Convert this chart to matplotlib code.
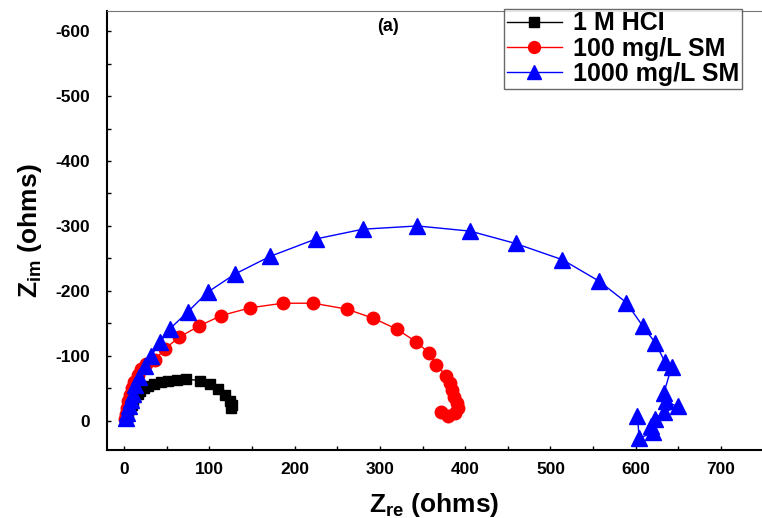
import numpy as np
import matplotlib
matplotlib.use("Agg")
import matplotlib.pyplot as plt
from matplotlib.ticker import MultipleLocator

plt.rcParams['font.family'] = ['Liberation Sans', 'DejaVu Sans']
plt.rcParams['font.weight'] = 'bold'
plt.rcParams['axes.unicode_minus'] = False
plt.rcParams['mathtext.fontset'] = 'custom'
plt.rcParams['mathtext.rm'] = 'Liberation Sans:bold'
plt.rcParams['mathtext.bf'] = 'Liberation Sans:bold'
plt.rcParams['mathtext.it'] = 'Liberation Sans:bold'

# 1 M HCl
hcl_re = [3, 5, 7, 9, 11, 13, 16, 19, 23, 28, 35, 43, 52, 62, 73, 89, 101, 110, 118, 124, 126, 125]
hcl_im = [-5, -12, -19, -25, -31, -37, -42, -46, -50, -54, -57, -60, -62, -63, -64, -62, -56, -49, -39, -30, -24, -20]

# 100 mg/L SM
sm100_re = [1, 2, 3, 5, 7, 9, 12, 16, 20, 26, 36, 48, 65, 88, 114, 148, 186, 222, 261, 292, 320, 342,
            358, 366, 378, 382, 384, 387, 390, 392, 388, 380, 372]
sm100_im = [-2, -10, -20, -30, -40, -50, -60, -70, -80, -87, -94, -111, -129, -146, -162, -174, -181, -181,
            -172, -158, -141, -122, -104, -86, -69, -58, -48, -37, -27, -20, -12, -7, -14]

# 1000 mg/L SM
sm1000_re = [2, 4, 6, 8, 10, 13, 18, 24, 32, 42, 54, 75, 98, 130, 171, 225, 280, 344, 406, 459, 514,
             557, 589, 608, 623, 634, 642, 633, 635, 649, 633, 622, 618, 620, 604, 602]
sm1000_im = [-4, -12, -22, -32, -42, -55, -68, -84, -100, -121, -142, -168, -198, -226, -253, -280, -295,
             -300, -292, -273, -248, -215, -182, -146, -120, -91, -83, -43, -30, -22, -13, -2, 8, 18, 27, -7]

W, H = 762, 518
fig = plt.figure(figsize=(W / 100, H / 100), dpi=100)

ax = fig.add_axes([107 / W, 1 - 450 / H, 1 - 107 / W, (450 - 11) / H])

ax.plot(hcl_re, hcl_im, color='black', marker='s', ms=7, lw=1, label='1 M HCI')
ax.plot(sm100_re, sm100_im, color='red', marker='o', ms=9, lw=1, label='100 mg/L SM')
ax.plot(sm1000_re, sm1000_im, color='blue', marker='^', ms=11, lw=1, label='1000 mg/L SM')

ax.set_xlim(-20, 748)
ax.set_ylim(45, -631)
ax.xaxis.set_major_locator(MultipleLocator(100))
ax.xaxis.set_minor_locator(MultipleLocator(50))
ax.yaxis.set_major_locator(MultipleLocator(100))
ax.yaxis.set_minor_locator(MultipleLocator(50))
ax.tick_params(which='both', direction='in', length=3, width=1)
ax.tick_params(axis='x', pad=9, labelsize=12.5)
ax.tick_params(axis='y', pad=12, labelsize=12.5)
for lab in ax.get_xticklabels() + ax.get_yticklabels():
    lab.set_fontweight('bold')

ax.spines['right'].set_visible(False)
ax.spines['top'].set_color('#777777')
ax.spines['left'].set_linewidth(1.5)
ax.spines['bottom'].set_linewidth(1.5)

ax.set_xlabel(r'Z$_{\rm re}$ (ohms)', fontsize=19, fontweight='bold', labelpad=10)
ax.set_ylabel(r'Z$_{\rm im}$ (ohms)', fontsize=19, fontweight='bold', labelpad=8)

ax.text(0.429, 0.985, '(a)', transform=ax.transAxes, fontsize=13, fontweight='bold',
        ha='center', va='top')

leg = ax.legend(loc='upper left', bbox_to_anchor=(504 / W, 1 - 9 / H), bbox_transform=fig.transFigure,
                borderaxespad=0, fontsize=18, frameon=True, fancybox=False, handlelength=2.2,
                handletextpad=0.45, borderpad=0.1, labelspacing=0.05, markerscale=0.95)
leg.get_frame().set_edgecolor('#444444')
leg.get_frame().set_linewidth(1)
for t in leg.get_texts():
    t.set_fontweight('bold')

fig.savefig('out.png', dpi=100)
